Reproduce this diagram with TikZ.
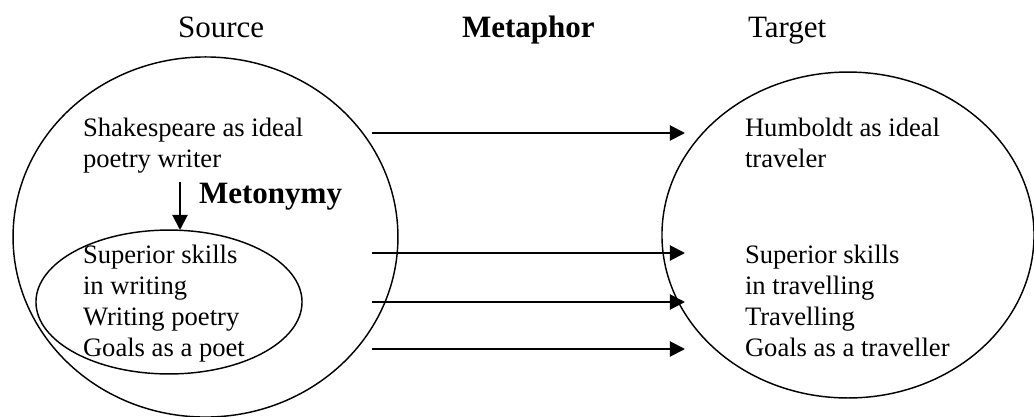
\documentclass[tikz,border=0pt]{standalone}
\usepackage{fontspec}
\setmainfont{Liberation Serif}
\usetikzlibrary{shapes.geometric}
\usetikzlibrary{arrows.meta}

\begin{document}
\begin{tikzpicture}[x=0.451pt,y=-0.451pt,
  every node/.style={inner sep=0pt,outer sep=0pt},
  head/.style={font=\fontsize{14}{16}\selectfont,anchor=base west},
  body/.style={font=\fontsize{12}{14}\selectfont,align=left,anchor=north west},
  oval/.style={draw,ellipse,line width=0.65pt},
  link/.style={-{Triangle[length=6.8pt,width=6.8pt]},line width=0.9pt}]
  \useasboundingbox (0,0) rectangle (1034,416);
  \clip (0,0) rectangle (1034,416);
  \node[head] (source) at (178,37) {Source};
  \node[head] (metaphor) at (462,37) {\textbf{Metaphor}};
  \node[head] (target) at (748,37) {Target};
  \node[oval,minimum width=173.6pt,minimum height=162.4pt] (srcdom) at (205.5,237) {};
  \node[oval,minimum width=120pt,minimum height=64.9pt] (inner) at (169,302) {};
  \node[oval,minimum width=167.8pt,minimum height=147pt] (tgtdom) at (848,235) {};
  \node[body] (shake) at (83,118) {Shakespeare as ideal\\poetry writer};
  \node[body] (skills) at (83,245) {Superior skills\\in writing\\Writing poetry\\Goals as a poet};
  \node[body] (humb) at (745,118) {Humboldt as ideal\\traveler};
  \node[body] (travel) at (745,245) {Superior skills\\in travelling\\Travelling\\Goals as a traveller};
  \node[head] (metonymy) at (199,203) {\textbf{Metonymy}};
  \coordinate (m1) at (180,182);
  \coordinate (m2) at (180,230);
  \draw[link] (m1) -- (m2);
  \foreach \n/\y in {1/133,2/253,3/302,4/349}{
    \coordinate (a\n) at (372,\y);
    \coordinate (b\n) at (685,\y);
    \draw[link] (a\n) -- (b\n);
  }
\end{tikzpicture}
\end{document}
